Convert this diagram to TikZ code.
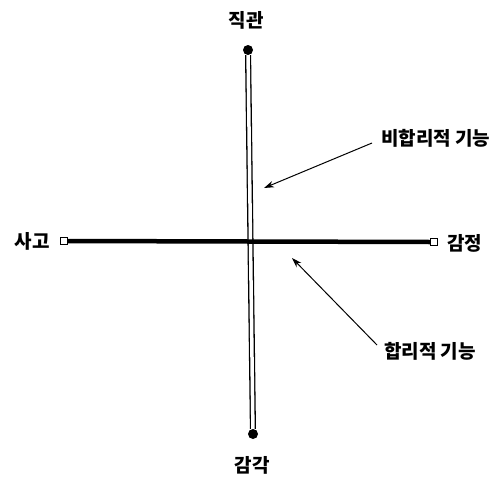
\documentclass[tikz,border=0pt]{standalone}
\usepackage{fontspec}
\newfontfamily\kr{Noto Sans CJK KR}
\usetikzlibrary{arrows.meta}
\begin{document}
\begin{tikzpicture}[x=1pt,y=-1pt,
  lbl/.style={font=\kr\fontsize{19}{22}\selectfont\bfseries, inner sep=0pt},
  dotnode/.style={circle, fill=black, inner sep=0pt, minimum size=10pt},
  sqnode/.style={rectangle, draw=black, fill=white, line width=1pt, inner sep=0pt, minimum size=6.5pt},
  pointer/.style={-{Stealth[length=10pt,width=6.5pt]}, line width=1pt}]
\useasboundingbox (0,0) rectangle (496,480);
\node[dotnode] (top) at (248,50) {};
\node[dotnode] (bot) at (253,434) {};
\draw[line width=1.3pt, double=white, double distance=3.5pt] (top) -- (bot);
\node[sqnode] (left) at (64,241) {};
\node[sqnode] (right) at (434,242) {};
\draw[line width=4.5pt] (left.east) -- (right.west);
\node[lbl] (t1) at (246,20) {직관};
\node[lbl] (t2) at (252,465) {감각};
\node[lbl, anchor=east] (t3) at (50,241) {사고};
\node[lbl, anchor=west] (t4) at (447,243) {감정};
\node[lbl, anchor=west] (t5) at (381,138) {비합리적 기능};
\node[lbl, anchor=west] (t6) at (384,351) {합리적 기능};
\coordinate (s1) at (372,143);
\coordinate (a1) at (264,188);
\coordinate (s2) at (377,345);
\coordinate (a2) at (292,258);
\draw[pointer] (s1) -- (a1);
\draw[pointer] (s2) -- (a2);
\end{tikzpicture}
\end{document}
